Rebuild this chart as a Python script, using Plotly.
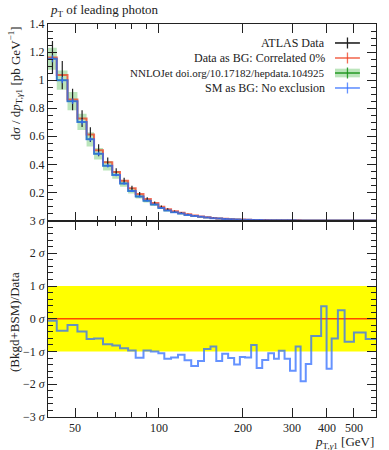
import plotly.graph_objects as go

# ---------------- data ----------------
edges = [40, 43, 47, 51, 55, 58.5, 63, 68, 72.5, 77.5, 82.5, 88, 93.5, 99.5, 104.5,
         110.5, 117, 123.5, 130.5, 138, 145, 153, 160.5, 168.5, 177, 186, 195, 203.5,
         214, 224, 234.5, 246.5, 258.5, 269, 282, 295, 309, 322, 336, 351.5, 381.5,
         399, 416, 438, 463, 500, 551, 600]

data_vals = [1.162, 1.036, 0.862, 0.726, 0.612, 0.500, 0.415, 0.345, 0.283, 0.229,
             0.188, 0.154, 0.125, 0.098, 0.080, 0.066, 0.055, 0.045, 0.0354, 0.0283,
             0.0226, 0.0182, 0.0148, 0.0120, 0.0097, 0.0079, 0.0065, 0.0053, 0.0043, 0.0036,
             0.0029, 0.0023, 0.0019, 0.0016, 0.0013, 0.00108, 0.0009, 0.00075, 0.00062, 0.00047,
             0.00036, 0.0003, 0.00025, 0.00019, 0.00015, 0.0001, 0.000067]

data_err = [0.117, 0.100, 0.077, 0.060, 0.052, 0.043, 0.034, 0.027, 0.022, 0.018,
            0.015, 0.012, 0.010, 0.008, 0.0065, 0.0053, 0.0044, 0.0036, 0.0028, 0.0023,
            0.0018, 0.0015, 0.0012, 0.0010, 0.0008, 0.00065, 0.00053, 0.00043, 0.00035, 0.00029,
            0.00024, 0.00019, 0.00016, 0.00013, 0.00011, 0.00009, 0.000075, 0.000063, 0.000053, 0.00004,
            0.000032, 0.000027, 0.000022, 0.000017, 0.000014, 0.00001, 0.000007]

sm_vals = [1.152, 1.000, 0.850, 0.702, 0.578, 0.475, 0.390, 0.325, 0.264, 0.211,
           0.171, 0.141, 0.114, 0.089, 0.072, 0.058, 0.049, 0.040, 0.032, 0.026,
           0.021, 0.0168, 0.0135, 0.0110, 0.0088, 0.0071, 0.0059, 0.0048, 0.0040, 0.0033,
           0.0026, 0.0021, 0.0017, 0.00145, 0.00118, 0.00097, 0.00083, 0.00066, 0.00056, 0.00044,
           0.00037, 0.00026, 0.00023, 0.00019, 0.00014, 0.000093, 0.000062]

sm_err = [0.025, 0.022, 0.020, 0.018, 0.016, 0.014, 0.012, 0.010, 0.009, 0.008,
          0.007, 0.006, 0.005, 0.004, 0.0035, 0.003, 0.0025, 0.002, 0.0016, 0.0013,
          0.001, 0.0008, 0.00065, 0.00053, 0.00043, 0.00035, 0.00029, 0.00023, 0.00019, 0.00016,
          0.00013, 0.0001, 0.00008, 0.00007, 0.00006, 0.00005, 0.00004, 0.000033, 0.000028, 0.000022,
          0.000019, 0.000015, 0.000013, 0.00001, 0.000009, 0.000007, 0.000005]

nnlo_err = [0.078, 0.069, 0.065, 0.058, 0.050, 0.041, 0.034, 0.028, 0.023, 0.018,
            0.015, 0.012, 0.0098, 0.0077, 0.0062, 0.005, 0.0042, 0.0034, 0.0027, 0.0022,
            0.0018, 0.0014, 0.0011, 0.0009, 0.00074, 0.0006, 0.0005, 0.0004, 0.00034, 0.00028,
            0.00022, 0.00018, 0.00014, 0.00012, 0.0001, 0.00008, 0.00007, 0.000056, 0.000047, 0.000037,
            0.000031, 0.000022, 0.000019, 0.000016, 0.000012, 0.000008, 0.000005]

pulls_sm = [-0.06, -0.37, -0.19, -0.39, -0.62, -0.60, -0.78, -0.82, -0.90, -0.97,
            -1.19, -0.97, -1.00, -1.05, -1.22, -1.18, -1.10, -1.27, -1.44, -1.29,
            -0.92, -0.85, -1.29, -1.07, -1.20, -1.40, -1.17, -1.18, -0.80, -1.50,
            -1.26, -1.05, -1.22, -0.98, -1.22, -1.59, -0.85, -1.91, -1.38, -0.53,
            0.38, -1.53, -0.60, 0.26, -0.70, -0.42, -0.62]
pulls_data = [0.0 for _ in pulls_sm]

x_major = [50, 100, 200, 300, 400, 500]
x_major_labels = ["50", "100", "200", "300", "400", "500"]
x_minor = [60, 70, 80, 90]
y_top_ticks = [0.2, 0.4, 0.6, 0.8, 1.0, 1.2, 1.4]
y_top_labels = ["0.2", "0.4", "0.6", "0.8", "1", "1.2", "1.4"]
sig_ticks = [-3, -2, -1, 0, 1, 2, 3]
sig_labels = ["−3 <i>σ</i>", "−2 <i>σ</i>", "−1 <i>σ</i>", "0 <i>σ</i>", "1 <i>σ</i>", "2 <i>σ</i>", "3 <i>σ</i>"]

# ---------------- styling ----------------
FONT = "Liberation Serif"
BLACK = "#222222"
RED = "rgba(238,60,30,0.75)"
BLUE = "rgba(50,110,255,0.75)"
GREEN_FILL = "rgba(60,180,60,0.35)"
GREEN_LINE = "rgba(30,150,30,0.9)"

centers = [(a + b) / 2 for a, b in zip(edges[:-1], edges[1:])]


def step(vals):
    return list(vals) + [vals[-1]]


fig = go.Figure()

# NNLOJet band (top)
fig.add_trace(go.Scatter(x=edges, y=step([v - e for v, e in zip(sm_vals, nnlo_err)]),
                         mode="lines", line=dict(width=0, shape="hv"), hoverinfo="skip",
                         xaxis="x", yaxis="y", showlegend=False))
fig.add_trace(go.Scatter(x=edges, y=step([v + e for v, e in zip(sm_vals, nnlo_err)]),
                         mode="lines", line=dict(width=0, shape="hv"), fill="tonexty",
                         fillcolor=GREEN_FILL, xaxis="x", yaxis="y", showlegend=False))
fig.add_trace(go.Scatter(x=edges, y=step(sm_vals), mode="lines",
                         line=dict(color=GREEN_LINE, width=1.5, shape="hv"),
                         xaxis="x", yaxis="y", showlegend=False))
# Data as BG (red)
fig.add_trace(go.Scatter(x=edges, y=step(data_vals), mode="lines",
                         line=dict(color=RED, width=2, shape="hv"),
                         xaxis="x", yaxis="y", showlegend=False))
# ATLAS data (black error bars)
fig.add_trace(go.Scatter(x=centers, y=data_vals, mode="markers",
                         marker=dict(size=1, color=BLACK),
                         error_y=dict(type="data", array=data_err, color=BLACK, width=0, thickness=1.2),
                         xaxis="x", yaxis="y", showlegend=False))
# SM as BG (blue)
fig.add_trace(go.Scatter(x=edges, y=step(sm_vals), mode="lines",
                         line=dict(color=BLUE, width=2, shape="hv"),
                         xaxis="x", yaxis="y", showlegend=False))
fig.add_trace(go.Scatter(x=centers, y=sm_vals, mode="markers",
                         marker=dict(size=1, color=BLUE),
                         error_y=dict(type="data", array=sm_err, color=BLUE, width=0, thickness=1.5),
                         xaxis="x", yaxis="y", showlegend=False))

# Bottom: pulls
fig.add_trace(go.Scatter(x=edges, y=step(pulls_data), mode="lines",
                         line=dict(color="rgba(255,40,0,0.85)", width=1.5, shape="hv"),
                         xaxis="x2", yaxis="y2", showlegend=False))
fig.add_trace(go.Scatter(x=edges, y=step(pulls_sm), mode="lines",
                         line=dict(color=BLUE, width=2, shape="hv"),
                         xaxis="x2", yaxis="y2", showlegend=False))

# yellow 1 sigma band
fig.add_shape(type="rect", xref="x2 domain", yref="y2", x0=0, x1=1, y0=-1, y1=1,
              fillcolor="#ffff00", line=dict(width=0), layer="below")

axis_common = dict(showline=True, linecolor=BLACK, linewidth=1, mirror="ticks",
                   ticks="inside", tickcolor=BLACK, showgrid=False, zeroline=False,
                   tickfont=dict(family=FONT, size=12, color=BLACK))

xrange_log = [1.60206, 2.778151]
fig.update_layout(
    width=389, height=450,
    margin=dict(l=48, r=13, t=24, b=33),
    paper_bgcolor="white", plot_bgcolor="rgba(0,0,0,0)",
    font=dict(family=FONT, size=12, color=BLACK),
    hovermode=False,
    xaxis=dict(type="log", range=xrange_log, domain=[0, 1], anchor="y",
               tickmode="array", tickvals=x_major, ticktext=x_major_labels, ticklen=9,
               showticklabels=False,
               minor=dict(tickmode="array", tickvals=x_minor, ticks="inside", ticklen=5, tickcolor=BLACK),
               **axis_common),
    yaxis=dict(range=[0, 1.4], domain=[0.5, 1], anchor="x",
               tickmode="array", tickvals=y_top_ticks, ticktext=y_top_labels, ticklen=9,
               minor=dict(dtick=0.05, ticks="inside", ticklen=5, tickcolor=BLACK),
               **axis_common),
    xaxis2=dict(type="log", range=xrange_log, domain=[0, 1], anchor="y2",
                tickmode="array", tickvals=x_major, ticktext=x_major_labels, ticklen=9,
                minor=dict(tickmode="array", tickvals=x_minor, ticks="inside", ticklen=5, tickcolor=BLACK),
                **axis_common),
    yaxis2=dict(range=[-3, 3], domain=[0, 0.5], anchor="x2",
                tickmode="array", tickvals=sig_ticks, ticktext=sig_labels, ticklen=9,
                minor=dict(dtick=0.2, ticks="inside", ticklen=5, tickcolor=BLACK),
                **axis_common),
)

# titles / labels
fig.add_annotation(text="<i>p</i><sub>T</sub> of leading photon", xref="paper", yref="paper",
                   x=0, y=1.034, xanchor="left", yanchor="middle", showarrow=False,
                   font=dict(family=FONT, size=13, color=BLACK))
fig.add_annotation(text="d<i>σ</i> / d<i>p</i><sub>T,<i>γ</i>1</sub> [pb GeV<sup>−1</sup>]",
                   xref="paper", yref="paper", x=-0.10, y=1.0, xanchor="center", yanchor="top",
                   textangle=-90, showarrow=False, font=dict(family=FONT, size=13, color=BLACK))
fig.add_annotation(text="(Bkgd+BSM)/Data", xref="paper", yref="paper", x=-0.10, y=0.242,
                   xanchor="center", yanchor="middle", textangle=-90, showarrow=False,
                   font=dict(family=FONT, size=13, color=BLACK))
fig.add_annotation(text="<i>p</i><sub>T,<i>γ</i>1</sub> [GeV]", xref="paper", yref="paper",
                   x=1.0, y=-0.066, xanchor="right", yanchor="middle", showarrow=False,
                   font=dict(family=FONT, size=13, color=BLACK))

# legend (drawn manually, symbols to the right of the text)
leg_labels = ["ATLAS Data", "Data as BG: Correlated 0%",
              "NNLOJet doi.org/10.17182/hepdata.104925", "SM as BG: No exclusion"]
leg_sizes = [12, 12, 11, 12]
leg_colors = [BLACK, RED, GREEN_LINE, BLUE]
leg_y = [0.9517, 0.9135, 0.8753, 0.8372]
for lab, sz, col, yy in zip(leg_labels, leg_sizes, leg_colors, leg_y):
    fig.add_annotation(text=lab, xref="paper", yref="paper", x=0.851, y=yy,
                       xanchor="right", yanchor="middle", showarrow=False,
                       font=dict(family=FONT, size=sz, color=BLACK))
    if col == GREEN_LINE:
        fig.add_shape(type="rect", xref="paper", yref="paper", x0=0.875, x1=0.951,
                      y0=yy - 0.011, y1=yy + 0.011, fillcolor=GREEN_FILL, line=dict(width=0))
    fig.add_shape(type="line", xref="paper", yref="paper", x0=0.875, x1=0.951, y0=yy, y1=yy,
                  line=dict(color=col, width=1.6))
    fig.add_shape(type="line", xref="paper", yref="paper", x0=0.913, x1=0.913,
                  y0=yy - 0.014, y1=yy + 0.014, line=dict(color=col, width=1.3))

# remove the default 8px page margin so the figure sits at the window's corner
fig.write_html("out.html", config={"displayModeBar": False},
               post_script="document.body.style.margin='0px';")
